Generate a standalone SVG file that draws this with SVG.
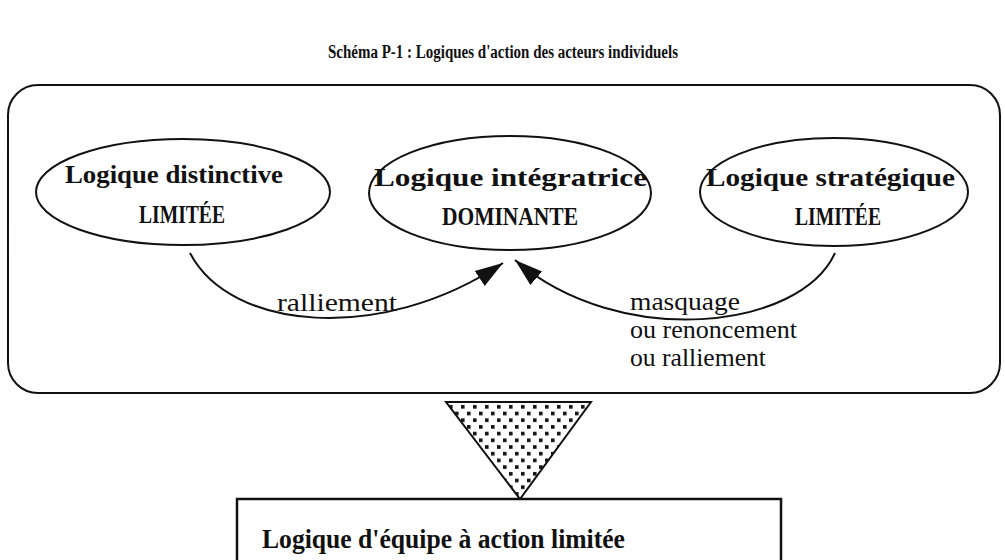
<svg xmlns="http://www.w3.org/2000/svg" width="1005" height="560" viewBox="0 0 1005 560">
<style>
.t{font-family:"Liberation Serif","Times New Roman",serif;fill:#111}
.b{font-weight:bold}
.n{font-size:26px;font-weight:bold}
.l{font-size:26px}
.e{fill:#fff;stroke:#111;stroke-width:2}
.c{fill:none;stroke:#111;stroke-width:2}
</style>
<defs>
<marker id="arr" markerUnits="userSpaceOnUse" markerWidth="30" markerHeight="20" refX="28" refY="9" orient="auto" viewBox="0 0 30 18">
<path d="M0,0 L28,9 L0,18 Z" fill="#111"/>
</marker>
<pattern id="dots" width="12" height="13.4" patternUnits="userSpaceOnUse" x="447" y="403">
<rect x="2" y="2" width="3.6" height="3.6" fill="#111"/>
<rect x="8" y="8.7" width="3.6" height="3.6" fill="#111"/>
</pattern>
</defs>
<rect width="1005" height="560" fill="#fff"/>
<text class="t b" x="328" y="58" font-size="18" textLength="350" lengthAdjust="spacingAndGlyphs">Schéma P-1 : Logiques d'action des acteurs individuels</text>
<g id="frame"><rect x="8" y="85" width="992" height="308" rx="30" ry="30" fill="none" stroke="#111" stroke-width="2"/></g>
<g id="connectors">
<path class="c" d="M190,253 C230,330 380,345 503,263" marker-end="url(#arr)"/>
<path class="c" d="M835,253 C800,330 620,350 515,260" marker-end="url(#arr)"/>
</g>
<g id="n1"><ellipse class="e" cx="183" cy="192" rx="147" ry="53"/>
<text class="t n" x="65" y="183" textLength="218" lengthAdjust="spacingAndGlyphs">Logique distinctive</text>
<text class="t n" x="139" y="223" textLength="86" lengthAdjust="spacingAndGlyphs">LIMITÉE</text></g>
<g id="n2"><ellipse class="e" cx="510" cy="193" rx="141" ry="57" stroke-width="4"/>
<text class="t n" x="374" y="186" textLength="273" lengthAdjust="spacingAndGlyphs">Logique intégratrice</text>
<text class="t n" x="442" y="225" textLength="136" lengthAdjust="spacingAndGlyphs">DOMINANTE</text></g>
<g id="n3"><ellipse class="e" cx="834" cy="192" rx="134" ry="54"/>
<text class="t n" x="706" y="186" textLength="249" lengthAdjust="spacingAndGlyphs">Logique stratégique</text>
<text class="t n" x="795" y="225" textLength="86" lengthAdjust="spacingAndGlyphs">LIMITÉE</text></g>
<g id="labels">
<text class="t l" x="277" y="311" textLength="120" lengthAdjust="spacingAndGlyphs">ralliement</text>
<text class="t l" x="630" y="310" textLength="110" lengthAdjust="spacingAndGlyphs">masquage</text>
<text class="t l" x="630" y="338" textLength="167" lengthAdjust="spacingAndGlyphs">ou renoncement</text>
<text class="t l" x="630" y="366" textLength="136" lengthAdjust="spacingAndGlyphs">ou ralliement</text>
</g>
<g id="transition"><path d="M446,402 L591,402 L520,499 Z" fill="url(#dots)" stroke="#111" stroke-width="2"/></g>
<g id="result"><rect x="237" y="499" width="544" height="70" fill="#fff" stroke="#111" stroke-width="2.5"/>
<text class="t b" x="262" y="548" font-size="28" textLength="363" lengthAdjust="spacingAndGlyphs">Logique d'équipe à action limitée</text></g>
</svg>
